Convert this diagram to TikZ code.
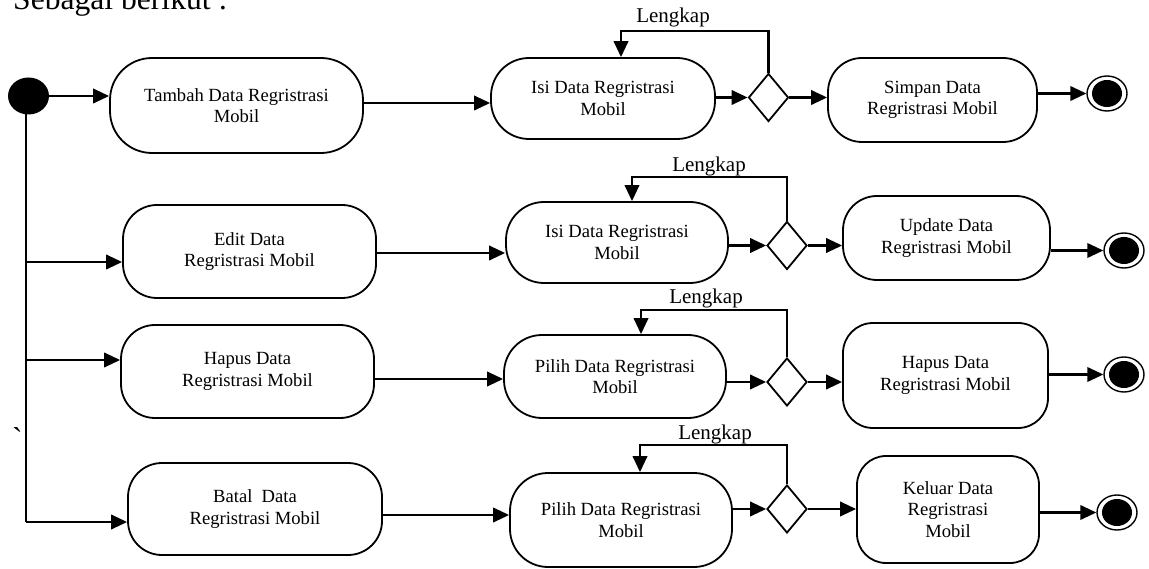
\documentclass[tikz,border=0pt]{standalone}
\usepackage{fontspec}
\setmainfont{Liberation Serif}
\newfontfamily\plainrm{Liberation Serif}
\usetikzlibrary{shapes.geometric,arrows.meta}

\begin{document}
\begin{tikzpicture}[x=1pt,y=-1pt,
  act/.style={draw, line width=1.8pt, rounded corners=34pt, align=center,
    inner sep=0pt, font=\fontsize{18.6}{21.5}\selectfont},
  choice/.style={draw, diamond, line width=1.8pt, inner sep=0pt,
    minimum width=40pt, minimum height=48pt},
  startnode/.style={ellipse, fill=black, inner sep=0pt,
    minimum width=41pt, minimum height=37pt},
  endnode/.style={ellipse, draw, line width=1.4pt, inner sep=0pt,
    minimum width=40pt, minimum height=35pt,
    path picture={\fill (path picture bounding box.center)
      ellipse [x radius=15pt, y radius=13.5pt];}},
  flow/.style={line width=2.2pt, -{Triangle[length=16pt,width=14.5pt]}},
  plain/.style={line width=2.2pt},
  guard/.style={anchor=base, inner sep=0pt, font=\fontsize{21}{24}\selectfont},
]
\fill[white] (0,0) rectangle (1149,569);
\useasboundingbox (0,0) rectangle (1149,569);

% heading line of the page
\node[anchor=base west, inner sep=0pt, font=\fontsize{31.6}{36}\selectfont]
  (title) at (13,10) {Sebagai berikut :};
\node[anchor=base west, inner sep=0pt, font=\plainrm\fontsize{31.6}{36}\selectfont]
  (tick) at (12,449) {\symbol{96}};

% start node and trunk
\node[startnode] (start) at (28.5,96) {};
\coordinate (br2) at (26,262);
\coordinate (br3) at (26,360);
\coordinate (br4) at (26,522);
\draw[plain] (start.center -| br4) -- (br4);

% activities
\node[act, rounded corners=42pt, minimum width=253pt, minimum height=95pt] (b1) at (236.5,105.5) {Tambah Data Regristrasi\\Mobil};
\node[act, rounded corners=38pt, minimum width=224pt, minimum height=81pt] (b2) at (603,98.5) {Isi Data Regristrasi\\Mobil};
\node[act, minimum width=209pt, minimum height=84pt] (b3) at (932.5,100) {Simpan Data\\Regristrasi Mobil};

\node[act, minimum width=253pt, minimum height=93pt] (b4) at (249.5,251.5) {Edit Data\\Regristrasi Mobil};
\node[act, rounded corners=38pt, minimum width=222pt, minimum height=81pt] (b5) at (617,242.5) {Isi Data Regristrasi\\Mobil};
\node[act, minimum width=207pt, minimum height=84pt] (b6) at (946.5,238) {Update Data\\Regristrasi Mobil};

\node[act, minimum width=253pt, minimum height=93pt] (b7) at (247.5,371.5) {Hapus Data\\Regristrasi Mobil};
\node[act, rounded corners=38pt, minimum width=222pt, minimum height=83pt] (b8) at (615,376.5) {Pilih Data Regristrasi\\Mobil};
\node[act, rounded corners=30pt, minimum width=205pt, minimum height=105pt] (b9) at (945.5,375.5) {Hapus Data\\Regristrasi Mobil};

\node[act, minimum width=254pt, minimum height=92pt] (b10) at (255,509) {Batal\ \ Data\\Regristrasi Mobil};
\node[act, rounded corners=38pt, minimum width=222pt, minimum height=94pt] (b11) at (621,520) {Pilih Data Regristrasi\\Mobil};
\node[act, rounded corners=29pt, minimum width=182pt, minimum height=107pt] (b12) at (948,509.5) {Keluar Data\\Regristrasi\\Mobil};

% decisions
\node[choice] (d1) at (768.5,97.5) {};
\node[choice] (d2) at (787,245.5) {};
\node[choice] (d3) at (787,382) {};
\node[choice] (d4) at (787,509) {};

% final nodes
\node[endnode] (f1) at (1107,93.5) {};
\node[endnode] (f2) at (1124,250.5) {};
\node[endnode] (f3) at (1124,374.5) {};
\node[endnode] (f4) at (1117,512.5) {};

% guard labels
\node[guard] (g1) at (673,23) {Lengkap};
\node[guard] (g2) at (709,172) {Lengkap};
\node[guard] (g3) at (706,304) {Lengkap};
\node[guard] (g4) at (715,439) {Lengkap};

% loop corners
\coordinate (l1) at (621,31);
\coordinate (l2) at (632,177);
\coordinate (l3) at (641,310);
\coordinate (l4) at (640,445);

% row 1
\draw[flow] (start.east) -- (b1.west |- start.east);
\draw[flow] (b1.east |- 0,103) -- (b2.west |- 0,103);
\draw[flow] (b2.east |- d1.west) -- (d1.west);
\draw[flow] (d1.east) -- (b3.west |- d1.east);
\draw[flow] (b3.east |- f1.west) -- (f1.west);
\draw[flow] (d1.north) |- (l1) -- (l1 |- b2.north);

% row 2
\draw[flow] (br2) -- (br2 -| b4.west);
\draw[flow] (b4.east |- 0,253) -- (b5.west |- 0,253);
\draw[flow] (b5.east |- d2.west) -- (d2.west);
\draw[flow] (d2.east) -- (b6.west |- d2.east);
\draw[flow] (b6.east |- f2.west) -- (f2.west);
\draw[flow] (d2.north) |- (l2) -- (l2 |- b5.north);

% row 3
\draw[flow] (br3) -- (br3 -| b7.west);
\draw[flow] (b7.east |- 0,379) -- (b8.west |- 0,379);
\draw[flow] (b8.east |- d3.west) -- (d3.west);
\draw[flow] (d3.east) -- (b9.west |- d3.east);
\draw[flow] (b9.east |- f3.west) -- (f3.west);
\draw[flow] (d3.north) |- (l3) -- (l3 |- b8.north);

% row 4
\draw[flow] (br4) -- (br4 -| b10.west);
\draw[flow] (b10.east |- 0,515) -- (b11.west |- 0,515);
\draw[flow] (b11.east |- d4.west) -- (d4.west);
\draw[flow] (d4.east) -- (b12.west |- d4.east);
\draw[flow] (b12.east |- f4.west) -- (f4.west);
\draw[flow] (d4.north) |- (l4) -- (l4 |- b11.north);
\end{tikzpicture}
\end{document}
